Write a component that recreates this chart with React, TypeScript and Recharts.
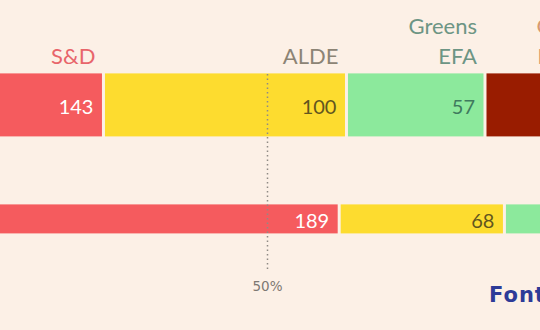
import React from 'react'
import { BarChart, Bar, XAxis, YAxis, ReferenceLine, LabelList } from 'recharts'

// seats per group, one entry per row (top row first)
const rows = ['2019', '2014']
const epp = [165, 216]
const sd = [143, 189]
const alde = [100, 68]
const greens = [57, 50]
const gue = [43, 52]

const TOTAL_SEATS = 751
const MAJORITY = TOTAL_SEATS / 2

// the picture is a crop of a wider chart: draw it whole, show a window
const PX_PER_SEAT = 2.43
const CHART_W = Math.round(TOTAL_SEATS * PX_PER_SEAT)
const VIEW_START = 265.6

const BG = '#fcf0e6'
const FONT = 'Lato, "Open Sans", sans-serif'

interface Party {
  key:        string
  label:      string[]
  fill:       string
  labelColor: string
  valueColor: string
}

const parties: Party[] = [
  { key: 'epp',    label: ['EPP'],            fill: '#3d6fb6', labelColor: '#5b7fb0', valueColor: '#fff' },
  { key: 'sd',     label: ['S&D'],            fill: '#f55b5e', labelColor: '#e8656b', valueColor: '#fff' },
  { key: 'alde',   label: ['ALDE'],           fill: '#fddc2f', labelColor: '#8c8475', valueColor: '#62561f' },
  { key: 'greens', label: ['Greens', 'EFA'],  fill: '#8ce99c', labelColor: '#6d9584', valueColor: '#3f7a5e' },
  { key: 'gue',    label: ['GUE', 'NGL'],     fill: '#991c00', labelColor: '#d79a6f', valueColor: '#fff' },
]

const data = rows.map((row, i) => ({
  row,
  epp:    epp[i],
  sd:     sd[i],
  alde:   alde[i],
  greens: greens[i],
  gue:    gue[i],
}))

// top row drawn thicker than the comparison row
const ROW_THICKNESS: Record<string, number> = { '2019': 63, '2014': 29 }

function Segment(props: any) {
  const { x, y, width, height, fill, payload } = props
  const h = ROW_THICKNESS[payload?.row] ?? height
  const cy = y + height / 2
  return (
    <rect
      x={x + 1.5}
      y={cy - h / 2}
      width={Math.max(width - 3, 0)}
      height={h}
      fill={fill}
    />
  )
}

function valueLabel(color: string) {
  return (props: any) => {
    const vb = props.viewBox ?? props
    const { x, y, width, height } = vb
    return (
      <text
        x={x + width - 10}
        y={y + height / 2 + 1}
        textAnchor="end"
        dominantBaseline="central"
        fill={color}
        fontSize={20}
        fontFamily={FONT}
      >
        {props.value}
      </text>
    )
  }
}

function nameLabel(p: Party) {
  return (props: any) => {
    if (props.value !== rows[0]) return null
    const vb = props.viewBox ?? props
    const { x, y, width, height } = vb
    const top = y + height / 2 - ROW_THICKNESS[rows[0]] / 2
    const n = p.label.length
    return (
      <text
        textAnchor="end"
        fill={p.labelColor}
        fontSize={22}
        fontFamily={FONT}
      >
        {p.label.map((line, i) => (
          <tspan key={line} x={x + width - 8} y={top - 9 - (n - 1 - i) * 30}>
            {line}
          </tspan>
        ))}
      </text>
    )
  }
}

function MajorityLine(props: any) {
  const { x1, y1, x2, y2 } = props
  const top = Math.min(y1, y2)
  const bottom = Math.max(y1, y2)
  return (
    <line
      x1={x1}
      x2={x2}
      y1={top + 26}
      y2={bottom - 4}
      stroke="#8f8a85"
      strokeWidth={1.5}
      strokeDasharray="1.5 3"
    />
  )
}

export default function App() {
  return (
    <div
      style={{
        position: 'absolute', left: 0, top: 0, width: 540, height: 330,
        background: BG, overflow: 'hidden', fontFamily: FONT,
      }}
    >
      <div style={{ position: 'absolute', top: 0, left: -VIEW_START * PX_PER_SEAT }}>
        <BarChart
          width={CHART_W}
          height={330}
          data={data}
          layout="vertical"
          margin={{ top: 48, right: 0, bottom: 54, left: 0 }}
        >
          <XAxis type="number" domain={[0, TOTAL_SEATS]} hide />
          <YAxis type="category" dataKey="row" hide />
          {parties.map(p => (
            <Bar
              key={p.key}
              dataKey={p.key}
              stackId="seats"
              fill={p.fill}
              shape={<Segment />}
              isAnimationActive={false}
            >
              <LabelList dataKey={p.key} content={valueLabel(p.valueColor)} />
              <LabelList dataKey="row" content={nameLabel(p)} />
            </Bar>
          ))}
          <ReferenceLine
            x={MAJORITY}
            shape={<MajorityLine />}
            label={{ value: '50%', position: 'bottom', offset: 5, fill: '#7d7873', fontSize: 13.5, fontFamily: '"DejaVu Sans", sans-serif' }}
          />
        </BarChart>
      </div>
      <div
        style={{
          position: 'absolute', left: 489, top: 283, whiteSpace: 'nowrap',
          color: '#2d3b98', fontWeight: 700, fontSize: 21, letterSpacing: 1,
          fontFamily: '"DejaVu Sans", sans-serif',
        }}
      >
        Fonte
      </div>
    </div>
  )
}
